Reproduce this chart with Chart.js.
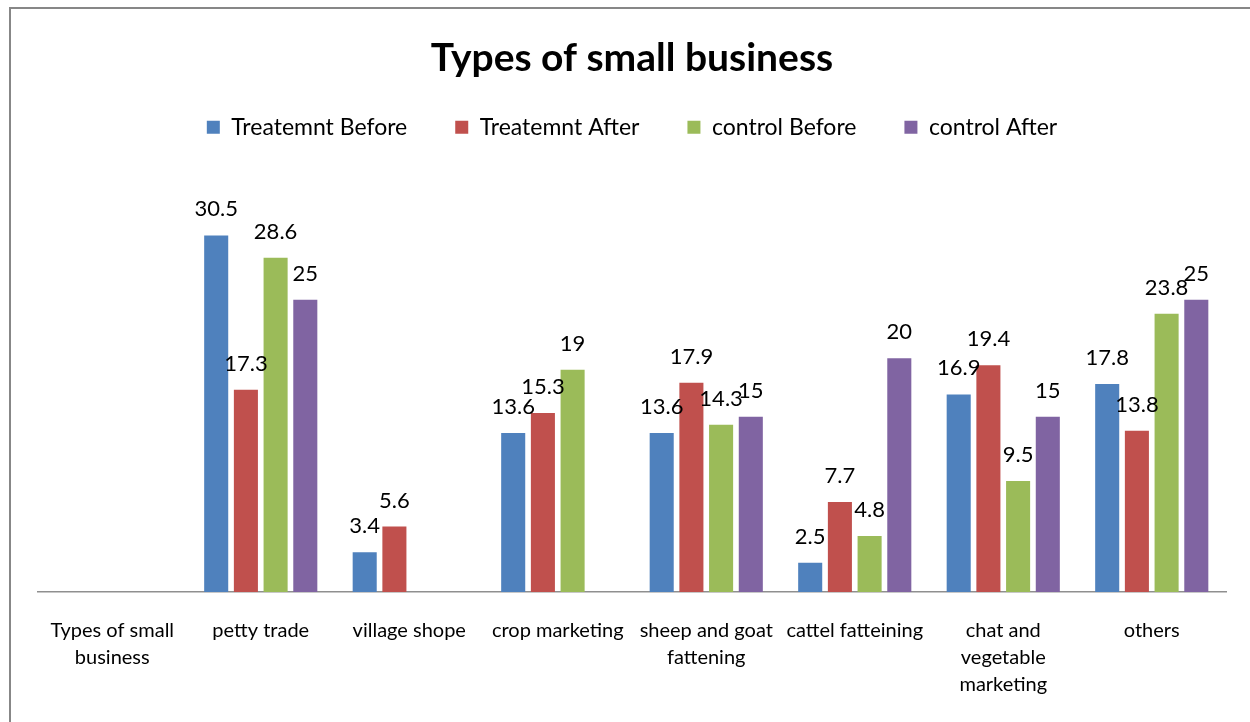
<!DOCTYPE html>
<html>
<head>
<meta charset="utf-8">
<script src="https://cdn.jsdelivr.net/npm/chart.js@4.4.1/dist/chart.umd.min.js"></script>
<style>
  html, body { margin: 0; padding: 0; background: #fff; }
  #wrap { position: relative; width: 1250px; height: 722px; overflow: hidden; }
  #c { position: absolute; left: 0; top: 0; }
  #frame {
    position: absolute; left: 9px; top: 7px; right: -4px; bottom: -4px;
    border-left: 2px solid #878787; border-top: 2px solid #878787;
    pointer-events: none;
  }
</style>
</head>
<body>
<div id="wrap">
  <canvas id="c" width="1250" height="722"></canvas>
  <div id="frame"></div>
</div>
<script>
// Categories (multi-line where the axis label wraps)
const categories = [
  ['Types of small', 'business'],
  'petty trade',
  'village shope',
  'crop marketing',
  ['sheep and goat', 'fattening'],
  'cattel fatteining',
  ['chat and', 'vegetable', 'marketing'],
  'others'
];

const seriesNames = ['Treatemnt Before', 'Treatemnt After', 'control Before', 'control After'];

// Percent of respondents per business type
const treatmentBefore = [null, 30.5, 3.4, 13.6, 13.6, 2.5, 16.9, 17.8];
const treatmentAfter  = [null, 17.3, 5.6, 15.3, 17.9, 7.7, 19.4, 13.8];
const controlBefore   = [null, 28.6, null, 19, 14.3, 4.8, 9.5, 23.8];
const controlAfter    = [null, 25, null, null, 15, 20, 15, 25];

const seriesColors = ['#4F81BD', '#C0504D', '#9BBB59', '#8064A2'];
const seriesData = [treatmentBefore, treatmentAfter, controlBefore, controlAfter];

// Value labels drawn above each bar
const valueLabels = {
  id: 'valueLabels',
  afterDatasetsDraw(chart) {
    const ctx = chart.ctx;
    ctx.save();
    ctx.font = '22px Lato';
    ctx.fillStyle = '#000';
    ctx.textAlign = 'center';
    ctx.textBaseline = 'alphabetic';
    chart.data.datasets.forEach((ds, i) => {
      const meta = chart.getDatasetMeta(i);
      meta.data.forEach((bar, j) => {
        const v = ds.data[j];
        if (v === null || v === undefined) return;
        ctx.fillText(String(v), bar.x, bar.y - 19);
      });
    });
    ctx.restore();
  }
};

// Extra space between the legend and the plot
const legendGap = {
  id: 'legendGap',
  beforeInit(chart) {
    const lg = chart.legend;
    const fit = lg.fit;
    lg.fit = function () {
      fit.call(this);
      this.height += 34;
    };
  }
};

function build() {
  new Chart(document.getElementById('c'), {
    type: 'bar',
    data: {
      labels: categories,
      datasets: seriesNames.map((name, i) => ({
        label: name,
        data: seriesData[i],
        backgroundColor: seriesColors[i],
        borderWidth: 0,
        barPercentage: 0.81,
        categoryPercentage: 0.80
      }))
    },
    options: {
      responsive: false,
      animation: false,
      devicePixelRatio: 1,
      layout: { padding: { left: 38, right: 24, top: 0, bottom: -1 } },
      plugins: {
        title: {
          display: true,
          text: 'Types of small business',
          color: '#000',
          font: { family: 'Lato', size: 39, weight: 'bold', lineHeight: 1.2 },
          padding: { top: 35, bottom: -14 }
        },
        legend: {
          display: true,
          position: 'top',
          labels: {
            color: '#000',
            font: { family: 'Lato', size: 23 },
            boxWidth: 13,
            boxHeight: 13,
            padding: 48
          }
        },
        tooltip: { enabled: false }
      },
      scales: {
        x: {
          grid: { display: false, drawTicks: false },
          border: { display: true, color: '#8f8f8f', width: 1.5 },
          ticks: {
            color: '#000',
            font: { family: 'Lato', size: 20, lineHeight: 1.35 },
            padding: 25,
            maxRotation: 0,
            autoSkip: false
          }
        },
        y: { display: false, min: 0, max: 35 }
      }
    },
    plugins: [valueLabels, legendGap]
  });
}

Promise.all([
  document.fonts.load('22px Lato'),
  document.fonts.load('bold 39px Lato'),
  document.fonts.load('20px Lato')
]).then(build, build);
</script>
</body>
</html>
